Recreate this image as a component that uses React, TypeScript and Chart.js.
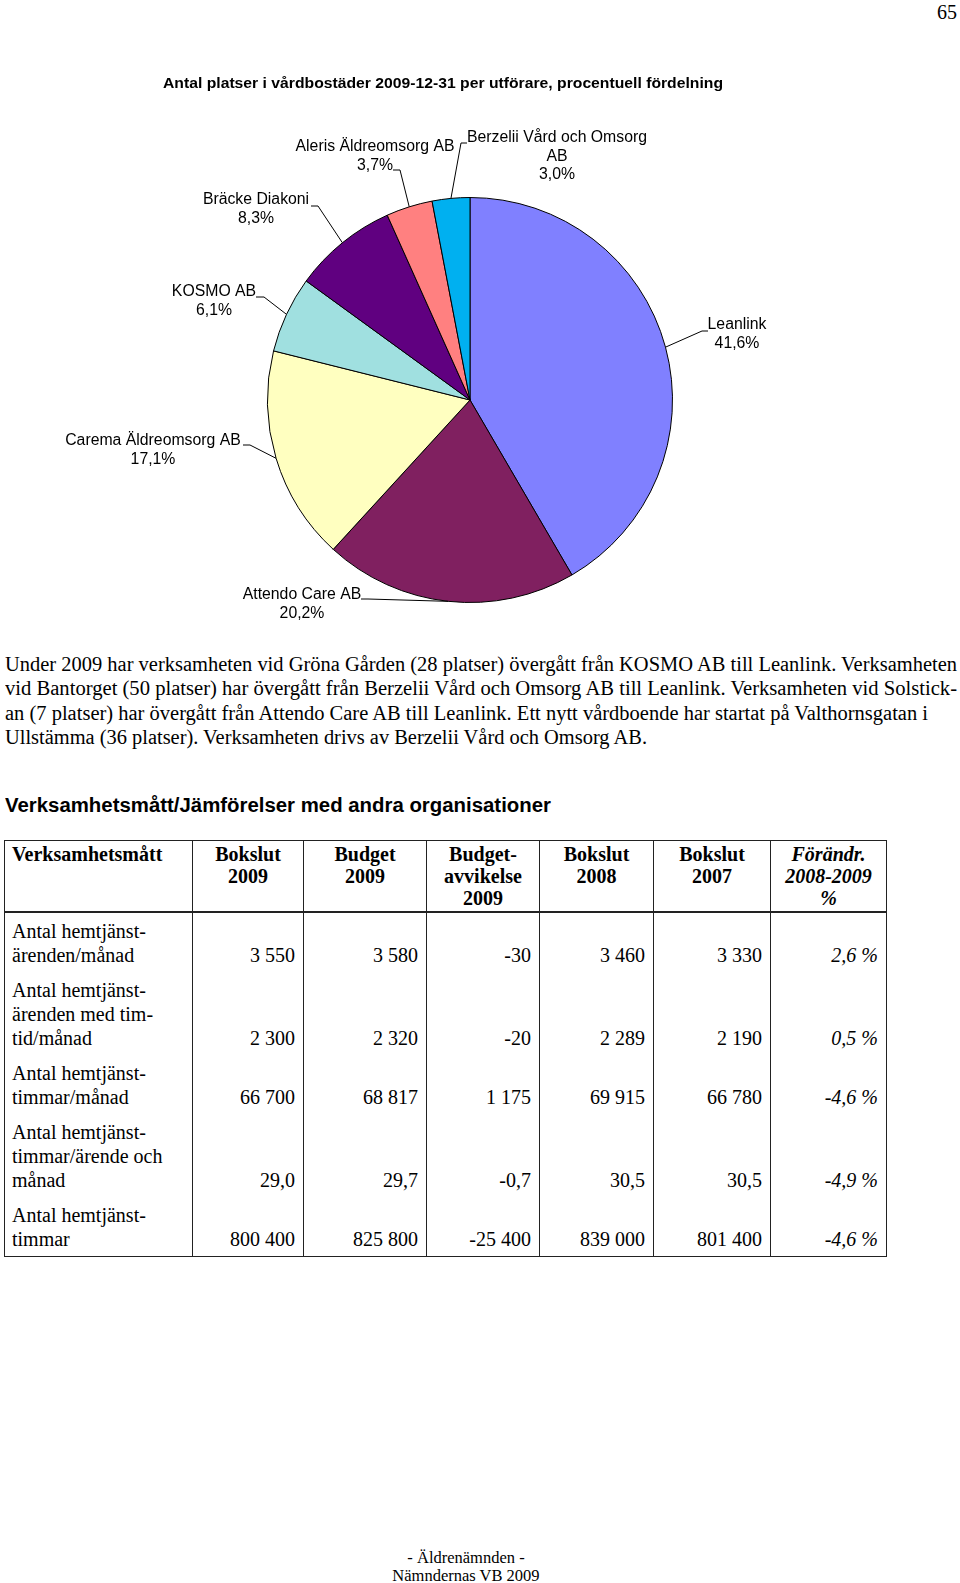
import React, { useEffect, useLayoutEffect, useRef } from "react";
import { Chart, registerables } from "chart.js";

Chart.register(...registerables);

// ---------- Chart data ----------
const chartTitle = "Antal platser i vårdbostäder 2009-12-31 per utförare, procentuell fördelning";
const providers = [
  "Leanlink",
  "Attendo Care AB",
  "Carema Äldreomsorg AB",
  "KOSMO AB",
  "Bräcke Diakoni",
  "Aleris Äldreomsorg AB",
  "Berzelii Vård och Omsorg AB",
];
const shares = [41.6, 20.2, 17.1, 6.1, 8.3, 3.7, 3.0];
const sliceColors = ["#8080FF", "#802060", "#FFFFC0", "#A0E0E0", "#600080", "#FF8080", "#00B0F0"];

// ---------- Page texts ----------
const pageNumber = "65";
const paragraphLines = [
  "Under 2009 har verksamheten vid Gröna Gården (28 platser) övergått från KOSMO AB till Leanlink. Verksamheten",
  "vid Bantorget (50 platser) har övergått från Berzelii Vård och Omsorg AB till Leanlink. Verksamheten vid Solstick-",
  "an (7 platser) har övergått från Attendo Care AB till Leanlink. Ett nytt vårdboende har startat på Valthornsgatan i",
  "Ullstämma (36 platser). Verksamheten drivs av Berzelii Vård och Omsorg AB.",
];
const tableHeading = "Verksamhetsmått/Jämförelser med andra organisationer";
const footerLines = ["- Äldrenämnden -", "Nämndernas VB 2009"];

// ---------- Table data ----------
const tableHeaders = [
  "Verksamhetsmått",
  "Bokslut\n2009",
  "Budget\n2009",
  "Budget-\navvikelse\n2009",
  "Bokslut\n2008",
  "Bokslut\n2007",
  "Förändr.\n2008-2009\n%",
];
const metrics = [
  "Antal hemtjänst-\närenden/månad",
  "Antal hemtjänst-\närenden med tim-\ntid/månad",
  "Antal hemtjänst-\ntimmar/månad",
  "Antal hemtjänst-\ntimmar/ärende och\nmånad",
  "Antal hemtjänst-\ntimmar",
];
const bokslut2009 = ["3 550", "2 300", "66 700", "29,0", "800 400"];
const budget2009 = ["3 580", "2 320", "68 817", "29,7", "825 800"];
const budgetavvikelse2009 = ["-30", "-20", "1 175", "-0,7", "-25 400"];
const bokslut2008 = ["3 460", "2 289", "69 915", "30,5", "839 000"];
const bokslut2007 = ["3 330", "2 190", "66 780", "30,5", "801 400"];
const forandring = ["2,6 %", "0,5 %", "-4,6 %", "-4,9 %", "-4,6 %"];

// ---------- Layout (positions / styles) ----------
const SANS = '"Liberation Sans", Arial, sans-serif';
const SERIF = '"Liberation Serif", "Times New Roman", serif';
const TITLE_POS = { x: 443, y: 84, width: 560, size: 15 };
const LABEL_FONT = 15.8;
const LABEL_LH = 18.5;
const labelLayout = [
  { cx: 737, cy: 325, elbow: [702, 331], tick: [708, 331], wrap: 200 },
  { cx: 302, cy: 595, elbow: [368, 599], tick: [361, 599], wrap: 200 },
  { cx: 153, cy: 441, elbow: [250, 445], tick: [243, 445], wrap: 200 },
  { cx: 214, cy: 292, elbow: [264, 297], tick: [256, 297], wrap: 200 },
  { cx: 256, cy: 200, elbow: [318, 206], tick: [311, 206], wrap: 200 },
  { cx: 375, cy: 147, elbow: [400, 170], tick: [393, 170], wrap: 200 },
  { cx: 557, cy: 138, elbow: [461, 143], tick: [467, 143], wrap: 190 },
];
const colWidths = [188, 111, 123, 113, 114, 117, 116];

function pct(v: number) {
  return v.toFixed(1).replace(".", ",") + "%";
}

function wrapText(ctx: CanvasRenderingContext2D, text: string, maxW: number) {
  const words = text.split(" ");
  const out: string[] = [];
  let cur = "";
  for (const w of words) {
    const t = cur ? cur + " " + w : w;
    if (ctx.measureText(t).width > maxW && cur) {
      out.push(cur);
      cur = w;
    } else cur = t;
  }
  if (cur) out.push(cur);
  return out;
}

const sliceLabelPlugin = {
  id: "sliceLabels",
  afterDatasetsDraw(chart: any) {
    const ctx: CanvasRenderingContext2D = chart.ctx;
    const meta = chart.getDatasetMeta(0);
    const data = chart.data.datasets[0].data as number[];
    const names = chart.data.labels as string[];
    ctx.save();
    ctx.fillStyle = "#000";
    ctx.textAlign = "center";
    ctx.textBaseline = "middle";
    // title
    ctx.font = `bold ${TITLE_POS.size}px ${SANS}`;
    const tw = ctx.measureText(chartTitle).width;
    ctx.save();
    ctx.translate(TITLE_POS.x, TITLE_POS.y);
    ctx.scale(TITLE_POS.width / tw, 1);
    ctx.fillText(chartTitle, 0, 0);
    ctx.restore();
    // labels
    ctx.font = `${LABEL_FONT}px ${SANS}`;
    ctx.strokeStyle = "#000";
    ctx.lineWidth = 1;
    meta.data.forEach((arc: any, i: number) => {
      const p = arc.getProps(["x", "y", "startAngle", "endAngle", "outerRadius"], true);
      const mid = (p.startAngle + p.endAngle) / 2;
      const ex = p.x + Math.cos(mid) * p.outerRadius;
      const ey = p.y + Math.sin(mid) * p.outerRadius;
      const L = labelLayout[i];
      ctx.beginPath();
      ctx.moveTo(ex, ey);
      ctx.lineTo(L.elbow[0], L.elbow[1]);
      ctx.lineTo(L.tick[0], L.tick[1]);
      ctx.stroke();
      const lines = [...wrapText(ctx, names[i], L.wrap), pct(data[i])];
      lines.forEach((t, k) => ctx.fillText(t, L.cx, L.cy + k * LABEL_LH));
    });
    ctx.restore();
  },
};

function FitLine(props: { text: string; left: number; top: number; width: number; lh: number; style: React.CSSProperties }) {
  const ref = useRef<HTMLSpanElement>(null);
  useLayoutEffect(() => {
    const el = ref.current;
    if (!el) return;
    const fit = () => {
      el.style.transform = "none";
      const w = el.getBoundingClientRect().width;
      if (w > 0) el.style.transform = `scaleX(${props.width / w})`;
    };
    fit();
    if ((document as any).fonts) (document as any).fonts.ready.then(fit);
  }, [props.text, props.width]);
  return (
    <span
      ref={ref}
      style={{
        position: "absolute",
        left: props.left,
        top: props.top,
        lineHeight: props.lh + "px",
        whiteSpace: "pre",
        transformOrigin: "0 0",
        color: "#000",
        ...props.style,
      }}
    >
      {props.text}
    </span>
  );
}

function PieChart() {
  const ref = useRef<HTMLCanvasElement>(null);
  useEffect(() => {
    if (!ref.current) return;
    const chart = new Chart(ref.current, {
      type: "pie",
      data: {
        labels: providers,
        datasets: [
          {
            data: shares,
            backgroundColor: sliceColors,
            borderColor: "#000",
            borderWidth: 1,
          },
        ],
      },
      options: {
        responsive: false,
        animation: false,
        devicePixelRatio: 1,
        events: [],
        layout: { padding: { left: 267, right: 287, top: 197, bottom: 37 } },
        plugins: {
          legend: { display: false },
          tooltip: { enabled: false },
          title: { display: false },
        },
      },
      plugins: [sliceLabelPlugin],
    } as any);
    return () => chart.destroy();
  }, []);
  return <canvas ref={ref} width={960} height={640} style={{ position: "absolute", left: 0, top: 0, width: 960, height: 640 }} />;
}

const cellBorder = "1px solid #222";

function DataTable() {
  const valueCols = [bokslut2009, budget2009, budgetavvikelse2009, bokslut2008, bokslut2007, forandring];
  const base: React.CSSProperties = { fontFamily: SERIF, fontSize: 20, color: "#000", whiteSpace: "pre", boxSizing: "border-box" };
  return (
    <table
      style={{
        position: "absolute",
        left: 4,
        top: 840,
        width: 882,
        borderCollapse: "collapse",
        tableLayout: "fixed",
        border: "1.5px solid #222",
      }}
    >
      <colgroup>
        {colWidths.map((w, i) => (
          <col key={i} style={{ width: w }} />
        ))}
      </colgroup>
      <thead>
        <tr>
          {tableHeaders.map((h, i) => (
            <th
              key={i}
              style={{
                ...base,
                fontWeight: "bold",
                fontStyle: i === 6 ? "italic" : "normal",
                lineHeight: "22.3px",
                padding: i === 0 ? "1.5px 4px 1.5px 7px" : "1.5px 4px",
                textAlign: i === 0 ? "left" : "center",
                verticalAlign: "top",
                borderLeft: cellBorder,
                borderRight: cellBorder,
                borderBottom: "2.5px solid #222",
              }}
            >
              {h}
            </th>
          ))}
        </tr>
      </thead>
      <tbody>
        {metrics.map((m, r) => (
          <tr key={r}>
            <td
              style={{
                ...base,
                lineHeight: "24px",
                padding: "6px 4px 5px 7px",
                textAlign: "left",
                verticalAlign: "top",
                borderLeft: cellBorder,
                borderRight: cellBorder,
              }}
            >
              {m}
            </td>
            {valueCols.map((col, c) => (
              <td
                key={c}
                style={{
                  ...base,
                  fontStyle: c === 5 ? "italic" : "normal",
                  lineHeight: "24px",
                  padding: "6px 8px 5px 4px",
                  textAlign: "right",
                  verticalAlign: "bottom",
                  borderLeft: cellBorder,
                  borderRight: cellBorder,
                }}
              >
                {col[r].replace(/ /g, "\u00A0")}
              </td>
            ))}
          </tr>
        ))}
      </tbody>
    </table>
  );
}

export default function App() {
  useLayoutEffect(() => {
    document.body.style.margin = "0";
    document.documentElement.style.overflow = "hidden";
  }, []);
  return (
    <div style={{ position: "relative", width: 960, height: 1583, overflow: "hidden", background: "#fff" }}>
      <span
        style={{
          position: "absolute",
          right: 3,
          top: 0,
          fontFamily: SERIF,
          fontSize: 20,
          lineHeight: "24px",
          color: "#000",
        }}
      >
        {pageNumber}
      </span>
      <PieChart />
      {paragraphLines.map((t, i) => (
        <FitLine
          key={i}
          text={t}
          left={5}
          top={652 + i * 24.3}
          width={[952, 952, 923, 642][i]}
          lh={24.3}
          style={{ fontFamily: SERIF, fontSize: 20 }}
        />
      ))}
      <FitLine
        text={tableHeading}
        left={5}
        top={793}
        width={546}
        lh={24}
        style={{ fontFamily: SANS, fontSize: 19.5, fontWeight: "bold" }}
      />
      <DataTable />
      {footerLines.map((t, i) => (
        <div
          key={i}
          style={{
            position: "absolute",
            left: 266,
            width: 400,
            top: 1549 + i * 18,
            textAlign: "center",
            fontFamily: SERIF,
            fontSize: 16.5,
            lineHeight: "17px",
            color: "#000",
          }}
        >
          {t}
        </div>
      ))}
    </div>
  );
}
